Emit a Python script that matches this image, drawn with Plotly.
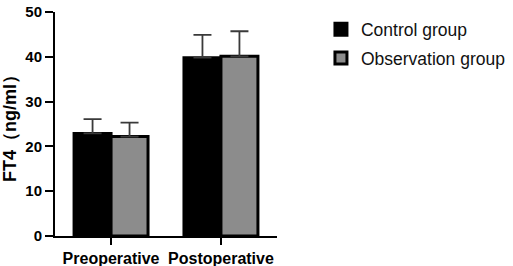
import plotly.graph_objects as go

categories = ["Preoperative", "Postoperative"]
control_means = [22.9, 39.8]
control_sd = [3.2, 5.1]
observation_means = [22.2, 40.1]
observation_sd = [3.1, 5.6]
y_ticks = [0, 10, 20, 30, 40, 50]

font_family = "Liberation Sans, Arial, sans-serif"

fig = go.Figure()
fig.add_trace(go.Bar(
    x=categories, y=control_means, name="Control group",
    marker=dict(color="#000000", line=dict(color="#000000", width=3)),
    error_y=dict(type="data", array=control_sd, arrayminus=[0, 0], symmetric=False,
                 color="#3a3a3a", thickness=1.8, width=9),
    legendgroup="a",
))
fig.add_trace(go.Bar(
    x=categories, y=observation_means, name="Observation group",
    marker=dict(color="#8c8c8c", line=dict(color="#000000", width=3)),
    error_y=dict(type="data", array=observation_sd, arrayminus=[0, 0], symmetric=False,
                 color="#3a3a3a", thickness=1.8, width=9),
    legendgroup="b",
))

fig.update_layout(
    width=513, height=266,
    margin=dict(l=55, r=236, t=12, b=30, autoexpand=False),
    paper_bgcolor="white", plot_bgcolor="white",
    barmode="group", bargap=0.327, bargroupgap=0,
    font=dict(family=font_family, color="#000000"),
    legend=dict(
        x=1.198, y=1.003, xanchor="left", yanchor="top",
        font=dict(size=17.5, family=font_family, color="#111111"),
        tracegroupgap=3, traceorder="grouped",
        bgcolor="rgba(0,0,0,0)",
    ),
    showlegend=True,
)
fig.update_xaxes(
    range=[-0.51, 1.51], automargin=False,
    showline=True, linecolor="#000000", linewidth=2,
    ticks="outside", ticklen=7, tickwidth=2, tickcolor="#000000",
    tickfont=dict(size=16, family=font_family, color="#000000", weight="bold"),
    showgrid=False, zeroline=False,
)
fig.update_yaxes(
    range=[0, 50], tickvals=y_ticks, automargin=False,
    showline=True, linecolor="#000000", linewidth=2,
    ticks="outside", ticklen=8, tickwidth=2, tickcolor="#000000",
    tickfont=dict(size=15, family=font_family, color="#000000", weight="bold"),
    showgrid=False, zeroline=False,
    title=dict(text="FT4（ng/ml）", font=dict(size=18, family=font_family, color="#000000", weight="bold"), standoff=4),
)

# remove the browser's default 8px body margin so the figure starts at the window corner
fig.write_html("out.html", config={"displayModeBar": False},
               post_script="document.body.style.margin='0';")
